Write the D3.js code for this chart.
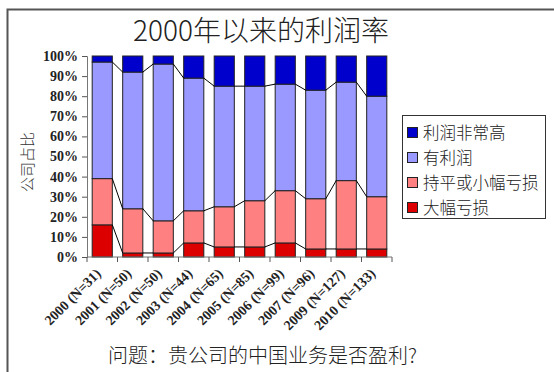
<!DOCTYPE html>
<html>
<head>
<meta charset="utf-8">
<script src="https://cdn.jsdelivr.net/npm/d3@7"></script>
<style>
  body { margin: 0; background: #fff; }
  svg { display: block; }
</style>
</head>
<body>
<script>
// data (percent of companies)
const years = ['2000 (N=31)', '2001 (N=50)', '2002 (N=50)', '2003 (N=44)', '2004 (N=65)',
  '2005 (N=85)', '2006 (N=99)', '2007 (N=96)', '2009 (N=127)', '2010 (N=133)']
const bigLoss   = [16, 2, 2, 7, 5, 5, 7, 4, 4, 4]
const breakEven = [23, 22, 16, 16, 20, 23, 26, 25, 34, 26]
const profit    = [58, 68, 78, 66, 60, 57, 53, 54, 49, 50]
const veryHigh  = [3, 8, 4, 11, 15, 15, 14, 17, 13, 20]
const seriesNames = ['大幅亏损', '持平或小幅亏损', '有利润', '利润非常高']
const yTicks = [0, 10, 20, 30, 40, 50, 60, 70, 80, 90, 100]

const w = 554, h = 372
const colors = ['#dd0000', '#ff8080', '#9999ff', '#0000cc']
const serif = '"Liberation Serif", "DejaVu Serif", serif'
const cjk = '"Noto Sans CJK SC", sans-serif'

const svg = d3.select('body').append('svg').attr('width', w).attr('height', h)

// outer frame
svg.append('rect').attr('x', 7.5).attr('y', 9.5).attr('width', 560).attr('height', 380)
  .attr('fill', 'none').attr('stroke', '#555').attr('stroke-width', 2)

svg.append('text').attr('x', 261).attr('y', 41).attr('text-anchor', 'middle')
  .style('font-family', cjk).style('font-size', '28px').style('font-weight', 300).attr('fill', '#222')
  .text('2000年以来的利润率')

const x = d3.scaleBand().domain(years).range([87, 392]).paddingInner(0.34).paddingOuter(0.17)
const y = d3.scaleLinear().domain([0, 100]).range([257, 56])

const rows = years.map((yr, i) => ({ yr, v: [bigLoss[i], breakEven[i], profit[i], veryHigh[i]] }))
const stack = d3.stack().keys([0, 1, 2, 3]).value((d, k) => d.v[k])(rows)

const g = svg.append('g')
stack.forEach((layer, k) => {
  g.selectAll(null).data(layer).enter().append('rect')
    .attr('x', d => x(d.data.yr))
    .attr('y', d => y(d[1]))
    .attr('width', x.bandwidth())
    .attr('height', d => y(d[0]) - y(d[1]))
    .attr('fill', colors[k])
    .attr('stroke', '#222').attr('stroke-width', 1)
})

// series lines between neighbouring bars
stack.slice(0, 3).forEach(layer => {
  for (let i = 0; i < layer.length - 1; i++) {
    g.append('line')
      .attr('x1', x(years[i]) + x.bandwidth()).attr('y1', y(layer[i][1]))
      .attr('x2', x(years[i + 1])).attr('y2', y(layer[i + 1][1]))
      .attr('stroke', '#000').attr('stroke-width', 1)
  }
})

// axes
const yAxis = svg.append('g').attr('transform', 'translate(87,0)')
  .call(d3.axisLeft(y).tickValues(yTicks).tickFormat(d => d + '%').tickSize(5).tickPadding(4))
yAxis.select('.domain').attr('stroke', '#777')
yAxis.selectAll('.tick line').attr('stroke', '#555')
yAxis.selectAll('text').style('font-family', serif).style('font-weight', 'bold').style('font-size', '14px').attr('fill', '#222')

const step = x.step()
const xAxis = svg.append('g').attr('transform', 'translate(0,257)')
xAxis.append('line').attr('x1', 87).attr('x2', 392).attr('stroke', '#777')
xAxis.selectAll(null).data(d3.range(years.length + 1)).enter().append('line')
  .attr('x1', i => 87 + i * step).attr('x2', i => 87 + i * step)
  .attr('y1', 0).attr('y2', 5).attr('stroke', '#555')
xAxis.selectAll(null).data(years).enter().append('text')
  .attr('transform', d => `translate(${x(d) + x.bandwidth() / 2 - 4},${14}) rotate(-45)`)
  .attr('text-anchor', 'end').attr('dy', '0.35em')
  .style('font-family', serif).style('font-weight', 'bold').style('font-size', '14px').attr('fill', '#222')
  .text(d => d)

svg.append('text').attr('transform', 'translate(33,162) rotate(-90)').attr('text-anchor', 'middle')
  .style('font-family', cjk).style('font-size', '15px').style('font-weight', 300).attr('fill', '#333')
  .text('公司占比')

svg.append('text').attr('x', 108).attr('y', 363)
  .style('font-family', cjk).style('font-size', '20px').style('font-weight', 300).attr('fill', '#222')
  .text('问题：贵公司的中国业务是否盈利?')

// legend
const lg = svg.append('g').attr('transform', 'translate(402,115)')
lg.append('rect').attr('x', 0.5).attr('y', 0.5).attr('width', 143).attr('height', 103)
  .attr('fill', '#fff').attr('stroke', '#333')
const order = [3, 2, 1, 0]
order.forEach((k, j) => {
  const item = lg.append('g').attr('transform', `translate(5,${18 + j * 25})`)
  item.append('rect').attr('x', 0.5).attr('y', -5.5).attr('width', 10).attr('height', 10)
    .attr('fill', colors[k]).attr('stroke', '#222')
  item.append('text').attr('x', 16).attr('y', 0).attr('dy', '0.35em')
    .style('font-family', cjk).style('font-size', '16.5px').style('font-weight', 300).attr('fill', '#222')
    .text(seriesNames[k])
})
</script>
</body>
</html>
